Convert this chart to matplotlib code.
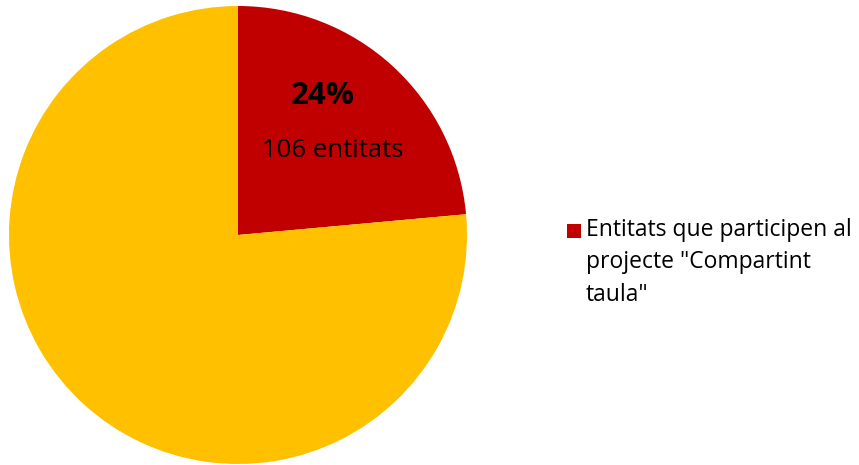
import matplotlib.pyplot as plt
from matplotlib.patches import Rectangle

plt.rcParams['font.family'] = ['Open Sans', 'DejaVu Sans']

labels = ['Entitats que participen al\nprojecte "Compartint\ntaula"', 'Altres entitats']
values = [106, 344]
colors = ['#C00000', '#FFC000']

fig = plt.figure(figsize=(8.59, 4.65), dpi=100)
ax = fig.add_axes([9 / 859, 1 / 465, 458 / 859, 458 / 465])
wedges, _ = ax.pie(values, colors=colors, startangle=90, counterclock=False,
                   radius=1, wedgeprops=dict(linewidth=0))
ax.set_xlim(-1, 1)
ax.set_ylim(-1, 1)
ax.set_aspect('equal')

total = sum(values)
pct = values[0] / total * 100
ax.text(0.37, 0.607, f'{pct:.0f}%', ha='center', va='center',
        fontsize=22.5, fontweight='bold', color='black')
ax.text(0.415, 0.368, f'{values[0]} entitats', ha='center', va='center',
        fontsize=18.5, color='black')

# legend: only the first series is shown
fig.patches.append(Rectangle((567 / 859, 1 - 238 / 465), 14 / 859, 14 / 465,
                             transform=fig.transFigure, facecolor=colors[0],
                             edgecolor='none'))
fig.text(586 / 859, 1 - 218 / 465, labels[0], ha='left', va='top',
         fontsize=16.5, linespacing=1.47, color='black')

fig.savefig('out.png', dpi=100)
